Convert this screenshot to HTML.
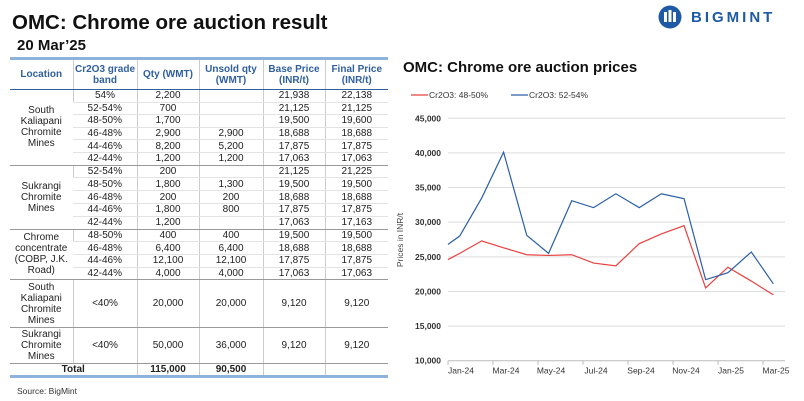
<!DOCTYPE html>
<html><head><meta charset="utf-8"><style>
body{margin:0;width:804px;height:401px;background:#fff;font-family:"Liberation Sans",sans-serif;position:relative;overflow:hidden}
.abs{position:absolute}
table{border-collapse:collapse;position:absolute;left:10px;top:57px;width:378px;table-layout:fixed;font-size:10px;color:#222}
td,th{padding:0;text-align:center;border-left:1px solid #ccc;border-bottom:1px solid #e3e3e3;line-height:11px}
td:first-child,th:first-child{border-left:none}
th{color:#2f5f9e;font-weight:bold;height:29px;border-top:3px solid #8db3dc;border-bottom:1.5px solid #2f5f9e}
tr.g td{border-bottom:1px solid #999}
tr.tot td{border-bottom:3px solid #8db3dc;font-weight:bold}
</style></head><body>
<div class="abs" style="left:12px;top:11px;font-size:20.5px;font-weight:bold;color:#111">OMC: Chrome ore auction result</div>
<div class="abs" style="left:17px;top:37px;font-size:15px;font-weight:bold;color:#111">20 Mar’25</div>
<div class="abs" style="left:657px;top:5px;display:flex;align-items:center">
<svg width="26" height="24"><circle cx="13" cy="12" r="11.5" fill="#1f5aa6"/><rect x="7" y="7" width="3" height="10" fill="#fff"/><rect x="11.5" y="5" width="3" height="12" fill="#fff"/><rect x="16" y="7" width="3" height="10" fill="#fff"/></svg>
<span style="margin-left:8px;font-size:15px;font-weight:bold;color:#1f5aa6;letter-spacing:3px">BIGMINT</span></div>

<table>
<colgroup><col style="width:63px"><col style="width:64px"><col style="width:62px"><col style="width:64px"><col style="width:62px"><col style="width:63px"></colgroup>
<tr><th>Location</th><th>Cr2O3 grade band</th><th>Qty (WMT)</th><th>Unsold qty (WMT)</th><th>Base Price (INR/t)</th><th>Final Price (INR/t)</th></tr>
<tr style="height:12.6px"><td rowspan="6" style="border-bottom:1px solid #999">South Kaliapani Chromite Mines</td><td>54%</td><td>2,200</td><td></td><td>21,938</td><td>22,138</td></tr>
<tr style="height:12.6px"><td>52-54%</td><td>700</td><td></td><td>21,125</td><td>21,125</td></tr>
<tr style="height:12.6px"><td>48-50%</td><td>1,700</td><td></td><td>19,500</td><td>19,600</td></tr>
<tr style="height:12.6px"><td>46-48%</td><td>2,900</td><td>2,900</td><td>18,688</td><td>18,688</td></tr>
<tr style="height:12.6px"><td>44-46%</td><td>8,200</td><td>5,200</td><td>17,875</td><td>17,875</td></tr>
<tr style="height:12.6px" class="g"><td>42-44%</td><td>1,200</td><td>1,200</td><td>17,063</td><td>17,063</td></tr>
<tr style="height:12.8px"><td rowspan="5" style="border-bottom:1px solid #999">Sukrangi Chromite Mines</td><td>52-54%</td><td>200</td><td></td><td>21,125</td><td>21,225</td></tr>
<tr style="height:12.8px"><td>48-50%</td><td>1,800</td><td>1,300</td><td>19,500</td><td>19,500</td></tr>
<tr style="height:12.8px"><td>46-48%</td><td>200</td><td>200</td><td>18,688</td><td>18,688</td></tr>
<tr style="height:12.8px"><td>44-46%</td><td>1,800</td><td>800</td><td>17,875</td><td>17,875</td></tr>
<tr style="height:12.8px" class="g"><td>42-44%</td><td>1,200</td><td></td><td>17,063</td><td>17,163</td></tr>
<tr style="height:12.7px"><td rowspan="4" style="border-bottom:1px solid #999">Chrome concentrate (COBP, J.K. Road)</td><td>48-50%</td><td>400</td><td>400</td><td>19,500</td><td>19,500</td></tr>
<tr style="height:12.7px"><td>46-48%</td><td>6,400</td><td>6,400</td><td>18,688</td><td>18,688</td></tr>
<tr style="height:12.7px"><td>44-46%</td><td>12,100</td><td>12,100</td><td>17,875</td><td>17,875</td></tr>
<tr style="height:12.7px" class="g"><td>42-44%</td><td>4,000</td><td>4,000</td><td>17,063</td><td>17,063</td></tr>
<tr style="height:48px" class="g"><td>South Kaliapani Chromite Mines</td><td>&lt;40%</td><td>20,000</td><td>20,000</td><td>9,120</td><td>9,120</td></tr>
<tr style="height:36px" class="g"><td>Sukrangi Chromite Mines</td><td>&lt;40%</td><td>50,000</td><td>36,000</td><td>9,120</td><td>9,120</td></tr>
<tr style="height:12px" class="tot"><td colspan="2">Total</td><td>115,000</td><td>90,500</td><td></td><td></td></tr>
</table>
<div class="abs" style="left:17px;top:386px;font-size:8.5px;color:#333">Source: BigMint</div>

<div class="abs" style="left:403px;top:59px;font-size:15px;font-weight:bold;color:#111">OMC: Chrome ore auction prices</div>
<svg id="chart" class="abs" style="left:0;top:0" width="804" height="401"></svg>
<script>
const months=["Jan-24","Mar-24","May-24","Jul-24","Sep-24","Nov-24","Jan-25","Mar-25"];
const monthOffsets=[0,0.52,1.5,2.47,3.5,4.47,5.5,6.47,7.46,8.5,9.48,10.49,11.45,12.44,13.48,14.46];
const red4850=[24600,25500,27300,26300,25300,25200,25300,24100,23700,26900,28300,29500,20500,23500,21500,19500];
const blue5254=[26800,28000,33500,40100,28100,25500,33100,32100,34100,32100,34100,33400,21700,22700,25700,21100];
const yTicks=[10000,15000,20000,25000,30000,35000,40000,45000];
const NS="http://www.w3.org/2000/svg",svg=document.getElementById("chart");
const x0=448,mw=22.5,yb=360.7,yt=118.3,ymin=10000,ymax=45000;
const X=m=>x0+m*mw, Y=v=>yb-(v-ymin)/(ymax-ymin)*(yb-yt);
function mk(t,a){const e=document.createElementNS(NS,t);for(const k in a)e.setAttribute(k,a[k]);svg.appendChild(e);return e;}
yTicks.forEach(v=>{
 const l=mk("line",{x1:x0,x2:785,y1:Y(v),y2:Y(v),stroke:v===ymin?"#bbb":"#ddd","stroke-width":1});
 
 
 const t=mk("text",{x:441,y:Y(v)+3,"text-anchor":"end","font-size":"8.5","font-weight":"bold","fill":"#333","font-family":"Liberation Sans"});
 t.textContent=v.toLocaleString("en-US");
 
 
});
months.forEach((m,i)=>{
 const tx=X(i*2);
 const tk=mk("line",{x1:tx,x2:tx,y1:yb,y2:yb+4,stroke:"#bbb"});
 
 
 const t=mk("text",{x:tx+13,y:yb+13,"text-anchor":"middle","font-size":"8.5","fill":"#333","font-family":"Liberation Sans"});
 t.textContent=m;
 
 
});
const yl=mk("text",{x:0,y:0,transform:"translate(403,240) rotate(-90)","text-anchor":"middle","font-size":"8.5","fill":"#444","font-family":"Liberation Sans"});
yl.textContent="Prices in INR/t";


function series(vals,col,name){
 const p=mk("polyline",{points:vals.map((v,i)=>X(monthOffsets[i])+","+Y(v)).join(" "),fill:"none",stroke:col,"stroke-width":1.2});
 
 
}
series(red4850,"#e8413f","line-48-50");
series(blue5254,"#2a5fa5","line-52-54");
[["#e8413f","Cr2O3: 48-50%",411],["#2a5fa5","Cr2O3: 52-54%",511]].forEach(([c,txt,x])=>{
 const l=mk("line",{x1:x,x2:x+17,y1:95,y2:95,stroke:c,"stroke-width":1.2});
 
 
 const t=mk("text",{x:x+18,y:98,"font-size":"8.5","fill":"#333","font-family":"Liberation Sans"});
 t.textContent=txt;
 
 
});
</script>
</body></html>
